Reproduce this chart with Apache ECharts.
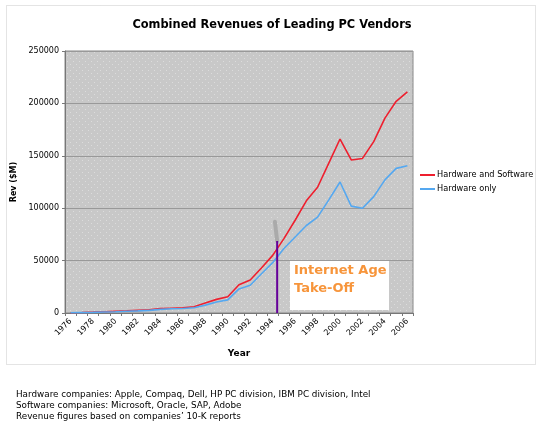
<!DOCTYPE html>
<html>
<head>
<meta charset="utf-8">
<script src="https://cdn.jsdelivr.net/npm/echarts@6/dist/echarts.min.js"></script>
<style>html,body{margin:0;padding:0;background:#fff}#c{width:544px;height:428px}</style>
</head>
<body>
<div id="c"></div>
<script>
var years = ['1976','1977','1978','1979','1980','1981','1982','1983','1984','1985','1986','1987','1988','1989','1990','1991','1992','1993','1994','1995','1996','1997','1998','1999','2000','2001','2002','2003','2004','2005','2006'];
var hwSw = [300,500,800,1200,1600,2000,2500,3000,4200,4600,5000,6000,9500,13000,15500,27000,31500,43000,55000,71000,88500,107000,120000,143000,166000,146000,147500,163500,186000,202000,211000];
var hwOnly = [200,400,600,900,1200,1600,2000,2500,3500,4000,4300,5000,7500,10500,12500,23000,26500,37500,48000,61500,72500,83500,91500,108000,125000,102000,100000,111000,127000,138000,140500];
var yTicks = [0,50000,100000,150000,200000,250000];
// annotation: vertical marker (position in category units from the left edge) and its values
var markerPos = 18.9;
var markerTop = 68700;
var markerGhostTop = [18.7, 87000];
var footnotes = [
  'Hardware companies: Apple, Compaq, Dell, HP PC division, IBM PC division, Intel',
  'Software companies: Microsoft, Oracle, SAP, Adobe',
  "Revenue figures based on companies\u2019 10-K reports"
];

var F = 'DejaVu Sans';
var pc = document.createElement('canvas');
pc.width = 6; pc.height = 6;
var g = pc.getContext('2d');
g.fillStyle = '#c8c8c8'; g.fillRect(0,0,6,6);
g.fillStyle = '#dcdcdc'; g.fillRect(1,1,1,1); g.fillRect(4,4,1,1);

var chart = echarts.init(document.getElementById('c'), null, {renderer:'canvas'});
chart.setOption({
  animation: false,
  title: {
    text: 'Combined Revenues of Leading PC Vendors',
    left: 'center', top: 15, padding: [5, 10, 5, 0],
    textStyle: {fontFamily: F, fontSize: 11.4, fontWeight: 'bold', color: '#000'}
  },
  legend: {
    orient: 'vertical', left: 420, top: 171, itemWidth: 15, itemHeight: 2, itemGap: 6, padding: 0,
    icon: 'rect',
    textStyle: {fontFamily: F, fontSize: 8.2, color: '#000', padding: [0,0,0,-3]},
    data: ['Hardware and Software', 'Hardware only']
  },
  grid: {
    left: 65, right: 131, top: 51, bottom: 115, show: true,
    backgroundColor: {image: pc, repeat: 'repeat'}, borderColor: '#888', borderWidth: 1
  },
  xAxis: [{
    type: 'category', data: years, boundaryGap: true,
    name: 'Year', nameLocation: 'middle', nameGap: 36,
    nameTextStyle: {fontFamily: F, fontSize: 9, fontWeight: 'bold', color: '#000'},
    axisLine: {lineStyle: {color: '#777'}},
    axisTick: {show: true, interval: 0, length: 3, lineStyle: {color: '#777'}},
    axisLabel: {interval: 1, rotate: 45, fontFamily: F, fontSize: 8, color: '#000', margin: 7},
    splitLine: {show: false}
  }, {
    type: 'value', min: 0, max: 31, show: false
  }],
  yAxis: {
    type: 'value', min: yTicks[0], max: yTicks[yTicks.length-1], interval: yTicks[1]-yTicks[0],
    name: 'Rev ($M)', nameLocation: 'middle', nameGap: 40,
    nameTextStyle: {fontFamily: F, fontSize: 8, fontWeight: 'bold', color: '#000'},
    axisLine: {show: true, lineStyle: {color: '#777'}},
    axisTick: {show: true, length: 3, lineStyle: {color: '#777'}},
    axisLabel: {fontFamily: F, fontSize: 8, color: '#000', margin: 6, formatter: function(v){ return String(v); }},
    splitLine: {show: true, lineStyle: {color: '#999', width: 1}}
  },
  graphic: [
    {type: 'rect', shape: {x: 6.5, y: 5.5, width: 529, height: 359},
     style: {fill: 'none', stroke: '#c8c8c8', lineWidth: 1, lineDash: [1,1]}, z: -1},
    {type: 'rect', shape: {x: 290, y: 261, width: 99, height: 49},
     style: {fill: '#ffffff'}, z: 10},
    {type: 'text', left: 294, top: 262, z: 11,
     style: {text: 'Internet Age\nTake-Off', fill: '#f7953b', font: 'bold 13px "DejaVu Sans"', lineHeight: 18}},
    {type: 'text', left: 16, top: 389, z: 11,
     style: {text: footnotes.join('\n'), fill: '#000', font: '8.8px "DejaVu Sans"', lineHeight: 11}}
  ],
  series: [
    {name: 'Hardware and Software', type: 'line', data: hwSw, showSymbol: false, symbol: 'none',
     lineStyle: {color: '#ee1f2e', width: 1.6}, itemStyle: {color: '#ee1f2e'}, z: 3},
    {name: 'Hardware only', type: 'line', data: hwOnly, showSymbol: false, symbol: 'none',
     lineStyle: {color: '#55a8f0', width: 1.6}, itemStyle: {color: '#55a8f0'}, z: 3},
    {name: 'ghost', type: 'line', xAxisIndex: 1, data: [[markerPos, markerTop], markerGhostTop],
     symbol: 'none', lineStyle: {color: '#aaaaaa', width: 4, cap: 'round'}, z: 4, silent: true},
    {name: 'marker', type: 'line', xAxisIndex: 1, data: [[markerPos, 0], [markerPos, markerTop]],
     symbol: 'none', lineStyle: {color: '#660099', width: 2}, z: 5, silent: true}
  ]
});
</script>
</body>
</html>
